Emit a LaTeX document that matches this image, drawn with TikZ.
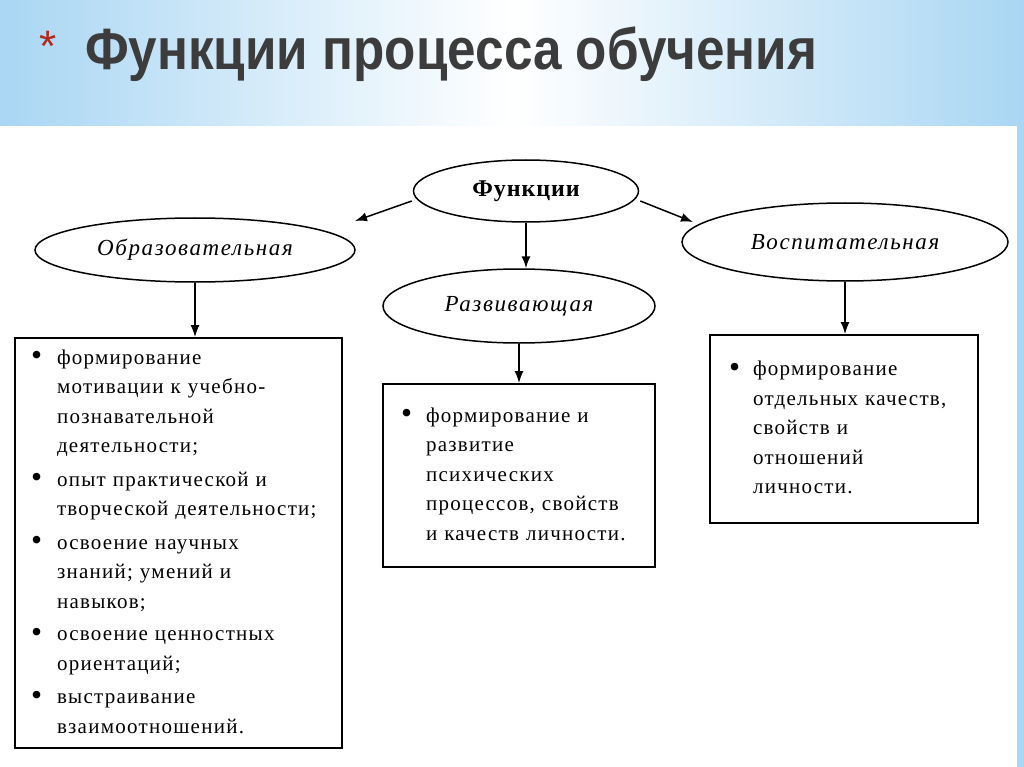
\documentclass[tikz,border=0pt]{standalone}
\usepackage{fontspec}
\setmainfont{Liberation Serif}
\newfontfamily\titlefont{Liberation Sans}
\usepackage{tikz}
\usetikzlibrary{shapes.geometric, arrows.meta, positioning}

\definecolor{bandblue}{HTML}{A9D6F3}
\definecolor{titlegray}{HTML}{3C3C3C}
\definecolor{stardred}{HTML}{B22A1E}

\newcommand{\blt}{\raisebox{-1.5pt}{\scalebox{1.5}{\textbullet}}}

\begin{document}
\begin{tikzpicture}[x=1pt, y=-1pt, >={Latex[length=12pt,width=9pt]}]
        \tikzstyle{func} = [ellipse, draw=black, line width=1.5pt, inner sep=0pt, text centered]
        \tikzstyle{listbox} = [rectangle, draw=black, line width=1.8pt, align=left, inner ysep=0pt,
            font=\fontsize{21}{29.5}\selectfont\addfontfeature{LetterSpace=6}]
        \tikzstyle{link} = [->, line width=1.5pt]

        % background and title band
        \useasboundingbox (0,0) rectangle (1024,767);
        \fill[white] (0,0) rectangle (1024,767);
        \shade[left color=bandblue, right color=bandblue, middle color=white] (0,0) rectangle (1024,126);
        \fill[bandblue] (1017,126) rectangle (1024,767);
        \node (star) at (48,46) {\titlefont\fontsize{44}{44}\selectfont\color{stardred}*};
        \node[anchor=base west, inner sep=0pt] (title) at (85,70)
            {\scalebox{0.985}[1.12]{\titlefont\bfseries\fontsize{52}{56}\selectfont\color{titlegray}Функции процесса обучения}};

        % ellipses
        \node (funk) [func, minimum width=225pt, minimum height=62pt] at (526,191)
            {\fontsize{24}{26}\selectfont\addfontfeature{LetterSpace=4}\bfseries Функции};
        \node (obr) [func, minimum width=320pt, minimum height=64pt] at (195,250)
            {\fontsize{23}{26}\selectfont\itshape\addfontfeature{LetterSpace=7}Образовательная};
        \node (razv) [func, minimum width=272pt, minimum height=74pt] at (519,306)
            {\fontsize{23}{26}\selectfont\itshape\addfontfeature{LetterSpace=7}Развивающая};
        \node (vosp) [func, minimum width=326pt, minimum height=78pt] at (845,242)
            {\fontsize{23}{26}\selectfont\itshape\addfontfeature{LetterSpace=7}Воспитательная};

        % boxes
        \node (obrbox) [listbox, minimum width=327pt, minimum height=410pt, inner xsep=16pt, text width=295pt] at (178.5,543) {%
            \begin{tabular}{@{}l@{\hspace{15pt}}l@{}}
            \blt & формирование\\
             & мотивации к учебно-\\
             & познавательной\\
             & деятельности;\\[4pt]
            \blt & опыт практической и\\
             & творческой деятельности;\\[4pt]
            \blt & освоение научных\\
             & знаний; умений и\\
             & навыков;\\[3pt]
            \blt & освоение ценностных\\
             & ориентаций;\\[4pt]
            \blt & выстраивание\\
             & взаимоотношений.
            \end{tabular}};
        \node (razvbox) [listbox, minimum width=272pt, minimum height=183pt, inner xsep=18pt, text width=236pt] at (519,475.5) {%
            \begin{tabular}{@{}l@{\hspace{14pt}}l@{}}
            \blt & формирование и\\
             & развитие\\
             & психических\\
             & процессов, свойств\\
             & и качеств личности.
            \end{tabular}};
        \node (vospbox) [listbox, minimum width=268pt, minimum height=188pt, inner xsep=19pt, text width=230pt] at (844,429) {%
            \begin{tabular}{@{}l@{\hspace{13pt}}l@{}}
            \blt & формирование\\
             & отдельных качеств,\\
             & свойств и\\
             & отношений\\
             & личности.
            \end{tabular}};

        % connectors
        \coordinate (obrtip) at (355,221);
        \coordinate (vosptip) at (693,222);
        \draw [link] (funk.west) ++(-1,10) -- (obrtip);
        \draw [link] (funk.south) -- (funk.south |- razv.north);
        \draw [link] (funk.east) ++(1,10) -- (vosptip);
        \draw [link] (obr) -- (obr |- obrbox.north);
        \draw [link] (razv) -- (razv |- razvbox.north);
        \draw [link] (vosp) -- (vosp |- vospbox.north);
\end{tikzpicture}
\end{document}
